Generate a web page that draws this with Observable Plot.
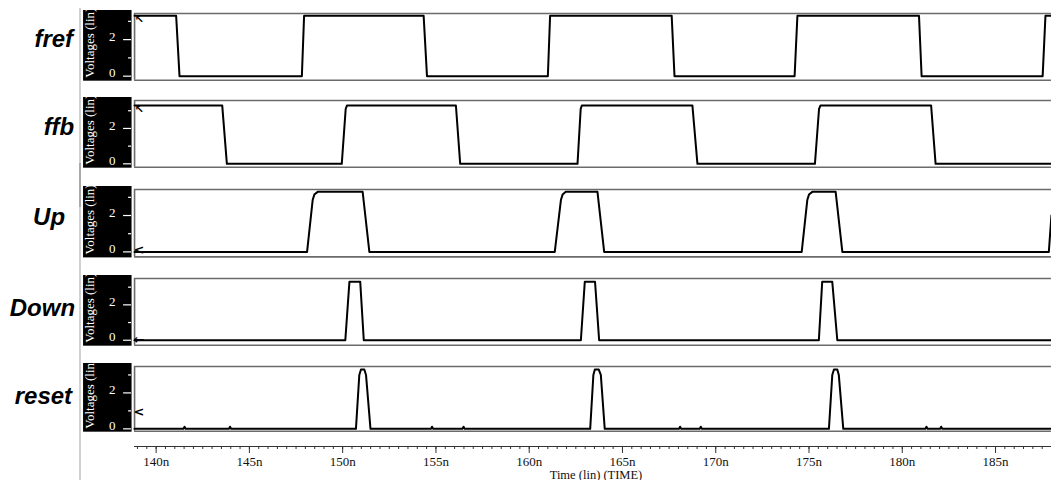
<!DOCTYPE html>
<html><head><meta charset="utf-8">
<script src="https://cdn.jsdelivr.net/npm/d3@7"></script>
<script src="https://cdn.jsdelivr.net/npm/@observablehq/plot@0.6"></script>
<style>
html,body{margin:0;padding:0;background:#fff;overflow:hidden;}
#root{position:relative;width:1051px;height:480px;overflow:hidden;background:#fff;}
.blk{position:absolute;left:0;width:1051px;}
.sep{position:absolute;left:79px;top:8px;width:2px;height:472px;background:#d2d2d2;}
.sep2{position:absolute;left:79px;top:163px;width:2px;height:44px;background:#a9a9a9;}
</style></head><body><div id="root"><div class="sep"></div><div class="sep2"></div></div>
<script>
// ---- data ----
const signals = ["fref", "ffb", "Up", "Down", "reset"];
const xDomain = [138.84, 188.0];               // ns
const majorTicks = [140, 145, 150, 155, 160, 165, 170, 175, 180, 185];
const minorTicks = d3.range(139, 188.01, 0.5);
const yMajor = [0, 2];
const yMinor = [1, 3];

const frefT = [138.84, 141.07, 141.25, 147.81, 147.93, 154.34, 154.52, 161.0, 161.12, 167.64, 167.79, 174.23, 174.38, 180.9, 181.04, 187.53, 187.68, 188.0];
const frefV = [3.3, 3.3, 0, 0, 3.3, 3.3, 0, 0, 3.3, 3.3, 0, 0, 3.3, 3.3, 0, 0, 3.3, 3.3];

const ffbT = [138.84, 143.54, 143.79, 149.95, 150.16, 150.23, 156.07, 156.30, 162.59, 162.76, 162.82, 168.75, 169.02, 175.32, 175.54, 175.62, 181.55, 181.79, 188.0];
const ffbV = [3.3, 3.3, 0, 0, 3.1, 3.3, 3.3, 0, 0, 3.1, 3.3, 3.3, 0, 0, 3.1, 3.3, 3.3, 0, 0];

const upT = [138.84, 148.09, 148.39, 148.48, 148.66, 151.07, 151.43, 161.37, 161.70, 161.79, 161.96, 163.66, 164.02, 174.61, 174.91, 175.0, 175.18, 176.43, 176.79, 187.86, 188.0];
const upV = [0, 0, 2.85, 3.15, 3.3, 3.3, 0, 0, 2.85, 3.15, 3.3, 3.3, 0, 0, 2.85, 3.15, 3.3, 3.3, 0, 0, 2.0];

const downT = [138.84, 150.14, 150.36, 150.94, 151.13, 162.77, 162.98, 163.53, 163.75, 175.53, 175.71, 176.25, 176.52, 188.0];
const downV = [0, 0, 3.3, 3.3, 0, 0, 3.3, 3.3, 0, 0, 3.3, 3.3, 0, 0];

const resetT = [138.84, 141.46, 141.52, 141.58, 143.90, 143.96, 144.02, 150.71, 150.89, 150.98, 151.16, 151.25, 151.49, 154.73, 154.79, 154.85, 156.42, 156.48, 156.54, 163.27, 163.44, 163.52, 163.73, 163.84, 164.05, 168.03, 168.09, 168.15, 169.14, 169.20, 169.26, 176.07, 176.25, 176.34, 176.52, 176.60, 176.84, 181.24, 181.30, 181.36, 182.03, 182.09, 182.15, 188.0];
const resetV = [0, 0, 0.12, 0, 0, 0.12, 0, 0, 3.0, 3.3, 3.3, 3.0, 0, 0, 0.12, 0, 0, 0.12, 0, 0, 3.0, 3.3, 3.3, 3.0, 0, 0, 0.12, 0, 0, 0.12, 0, 0, 3.0, 3.3, 3.3, 3.0, 0, 0, 0.12, 0, 0, 0.12, 0, 0];

const markerGlyph = ["\u2196", "\u2196", "<", "\u2190", "<"];
const markerV = [3.3, 3.3, 0.1, 0, 0.9];

// ---- layout ----
const T = [frefT, ffbT, upT, downT, resetT];
const V = [frefV, ffbV, upV, downV, resetV];
const panelTop = [13.3, 100, 189.3, 278.3, 366];
const panelBottom = [80, 166.7, 256.7, 345, 430.7];
const yDomains = [[-0.22, 3.43], [-0.19, 3.58], [-0.275, 3.43], [-0.28, 3.49], [-0.13, 3.47]];
const labelX = [73, 74, 65, 75, 72];
const labelBase = [47, 135, 225, 316, 404];

const root = document.getElementById("root");
const serif = "Liberation Serif, Times New Roman, serif";
const frameColor = "#6b6b6b";
const padT = 8, padB = 4;

signals.forEach((name, i) => {
  const top = panelTop[i], bottom = panelBottom[i];
  const fh = bottom - top;
  const H = fh + padT + padB;
  const yd = yDomains[i];
  const data = T[i].map((t, j) => ({t, v: V[i][j]}));
  const svg = Plot.plot({
    width: 1051, height: H,
    marginTop: padT, marginBottom: padB, marginLeft: 134, marginRight: 0,
    x: {domain: xDomain, axis: null},
    y: {domain: yd},
    marks: [
      Plot.ruleY([yd[1]], {stroke: frameColor, strokeWidth: 1.6}),
      Plot.ruleY([yd[0]], {stroke: frameColor, strokeWidth: 1.6}),
      Plot.ruleX([xDomain[0]], {stroke: frameColor, strokeWidth: 1.6}),
      Plot.axisY(yMajor, {anchor: "left", tickSize: 8, dx: -3, stroke: "white", strokeWidth: 1.2, fill: "none", label: null}),
      Plot.axisY(yMinor, {anchor: "left", tickSize: 3, dx: -3, stroke: "white", strokeWidth: 1.2, fill: "none", label: null}),
      Plot.axisY(yMajor, {anchor: "left", tickSize: 0, tickPadding: 16, dx: -3, dy: -3, fill: "white", fontFamily: serif, fontSize: 13, label: null}),
      Plot.line(data, {x: "t", y: "v", stroke: "black", strokeWidth: 2}),
      Plot.text([{t: xDomain[0], v: markerV[i], g: markerGlyph[i]}], {
        x: "t", y: "v", text: "g", textAnchor: "start", dx: i < 2 ? 0 : -1, dy: i < 2 ? 4 : -0.5,
        fontSize: i < 2 ? 11 : 13, fontWeight: "bold", fontFamily: "DejaVu Sans", fill: "black"
      })
    ]
  });
  const s = d3.select(svg);
  s.style("background", "transparent");
  // black y-axis box
  s.insert("rect", ":first-child")
    .attr("x", 83).attr("y", padT - 3).attr("width", 48.5).attr("height", fh + 4).attr("fill", "black");
  s.append("clipPath").attr("id", "vc" + i).append("rect")
    .attr("x", 83).attr("y", padT - 3).attr("width", 48.5).attr("height", fh + 4);
  s.append("g").attr("clip-path", `url(#vc${i})`).append("text")
    .attr("transform", `translate(93.5,${padT + fh - 2}) rotate(-90)`)
    .attr("text-anchor", "start")
    .attr("fill", "white").attr("font-family", serif).attr("font-size", 13)
    .text("Voltages (lin)");
  // signal name
  s.append("text")
    .attr("x", labelX[i]).attr("y", labelBase[i] - (top - padT))
    .attr("text-anchor", "end")
    .attr("font-family", "Liberation Sans, Arial, sans-serif")
    .attr("font-weight", "bold").attr("font-style", "italic").attr("font-size", 24)
    .attr("fill", "black")
    .text(name);
  const div = document.createElement("div");
  div.className = "blk";
  div.style.top = (top - padT) + "px";
  div.appendChild(svg);
  root.appendChild(div);
});

// ---- time axis ----
const axTop = 440, axH = 40;
const ax = Plot.plot({
  width: 1051, height: axH, marginTop: 0, marginBottom: axH - 6, marginLeft: 134, marginRight: 0,
  x: {domain: xDomain},
  y: {domain: [0, 1], axis: null},
  marks: [
    Plot.ruleY([0], {stroke: "#333", strokeWidth: 1.2}),
    Plot.axisX(minorTicks, {anchor: "bottom", tickSize: 3, stroke: "#333", fill: "none", label: null}),
    Plot.axisX(majorTicks, {anchor: "bottom", tickSize: 7, tickPadding: 3, tickFormat: d => d + "n",
      stroke: "#333", fill: "#111", fontFamily: serif, fontSize: 13, label: null})
  ]
});
d3.select(ax).style("background", "transparent")
  .append("text").attr("x", 596).attr("y", axH - 1.5).attr("text-anchor", "middle")
  .attr("font-family", serif).attr("font-size", 12.5).attr("fill", "#111")
  .text("Time (lin) (TIME)");
const axDiv = document.createElement("div");
axDiv.className = "blk";
axDiv.style.top = axTop + "px";
axDiv.appendChild(ax);
root.appendChild(axDiv);
</script>
</body></html>
